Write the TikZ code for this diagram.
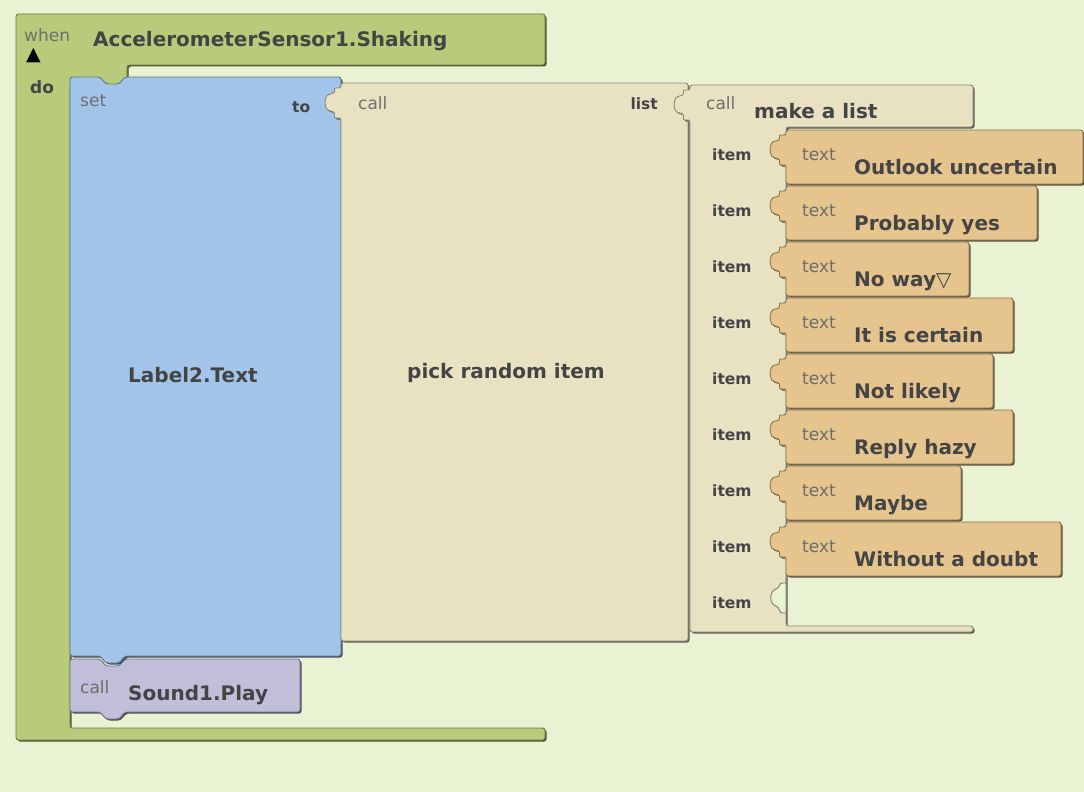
\documentclass[tikz,border=0pt]{standalone}
\usepackage{fontspec}
\setmainfont{DejaVu Sans}

\definecolor{bgcol}{HTML}{E9F3D4}
\definecolor{evgreen}{HTML}{B8CB7A}
\definecolor{setblue}{HTML}{A2C4E8}
\definecolor{callbeige}{HTML}{E8E2C3}
\definecolor{txtorange}{HTML}{E6C48E}
\definecolor{callpurple}{HTML}{C1BEDA}
\definecolor{lblgray}{HTML}{444444}
\definecolor{smgray}{HTML}{6E6E6E}

\tikzset{
  blk/.style={fill=#1, draw=#1!60!black, line width=0.9pt, rounded corners=2.5pt,
    preaction={fill=#1!40!black, transform canvas={xshift=1.5pt,yshift=-1.5pt}}},
  tabat/.style 2 args={insert path={-- (#1,{#2+35}) -- ({#1-3},{#2+35})
    .. controls ({#1-8},{#2+35}) and ({#1-5},{#2+30}) .. ({#1-10},{#2+28})
    .. controls ({#1-17},{#2+26}) and ({#1-17},{#2+13}) .. ({#1-10},{#2+11})
    .. controls ({#1-5},{#2+9}) and ({#1-8},{#2+5}) .. ({#1-3},{#2+5}) -- (#1,{#2+5})}},
  bigtxt/.style={font=\fontsize{20}{24}\selectfont\bfseries, text=lblgray, inner sep=0pt, anchor=base west},
  midtxt/.style={font=\fontsize{15.5}{18}\selectfont\bfseries, text=lblgray, inner sep=0pt, anchor=base west},
  smalltxt/.style={font=\fontsize{17}{20}\selectfont, text=smgray, inner sep=0pt, anchor=base west}
}

\begin{document}
\begin{tikzpicture}[x=1pt,y=-1pt]
\fill[bgcol] (0,0) rectangle (1084,792);
\useasboundingbox (0,0) rectangle (1084,792);

% event block
\draw[blk=evgreen] (16,14) -- (545,14) -- (545,65) -- (127,65) -- (127,85) -- (70,85)
  -- (70,728) -- (545,728) -- (545,740) -- (16,740) -- cycle;
\node[smalltxt] (when) at (24,42) {when};
\node[inner sep=0pt, anchor=base west, font=\fontsize{19}{22}\selectfont] (tri) at (26,61) {▲};
\node[bigtxt] (title) at (93,47) {AccelerometerSensor1.Shaking};
\node[midtxt, font=\fontsize{17}{20}\selectfont\bfseries] (do) at (30,93) {do};

% statements
\draw[blk=callpurple] (70,659) -- (100,659) -- (106,666) -- (119,666) -- (125,659) -- (300,659)
  -- (300,712) -- (125,712) -- (119,719) -- (106,719) -- (100,712) -- (70,712) -- cycle;
\node[smalltxt] (pcall) at (80,693) {call};
\node[bigtxt] (play) at (128,700) {Sound1.Play};

\draw[blk=setblue] (70,77) -- (100,77) -- (106,84) -- (119,84) -- (125,77) -- (341,77)
  -- (341,656) -- (125,656) -- (119,663) -- (106,663) -- (100,656) -- (70,656) -- cycle;
\node[smalltxt] (set) at (80,106) {set};
\node[midtxt] (to) at (292,112) {to};
\node[bigtxt] (lbl) at (128,382) {Label2.Text};

% pick random item
\draw[blk=callbeige] (341,83) -- (688,83) -- (688,641) -- (341,641) [tabat={341}{83}] -- cycle;
\node[smalltxt] (rcall) at (358,110) {call};
\node[midtxt, anchor=base east] (list) at (658,110) {list};
\node[bigtxt] (pick) at (407,378) {pick random item};

% make a list
\draw[blk=callbeige] (690,85) -- (973,85) -- (973,127) -- (786,127) -- (786,626)
  -- (973,626) -- (973,632) -- (690,632) [tabat={690}{85}] -- cycle;
\node[smalltxt] (mcall) at (706,110) {call};
\node[bigtxt] (mk) at (754,118) {make a list};
\draw[fill=bgcol, draw=callbeige!55!black, line width=0.9pt] (786,578) [tabat={786}{578}] -- cycle;

\foreach \k in {0,...,8}
  \node[midtxt] (item\k) at (712,{160+56*\k}) {item};

\foreach \k/\w/\val in {0/1083/Outlook uncertain, 1/1037/Probably yes, 2/969/No way▽,
    3/1013/It is certain, 4/993/Not likely, 5/1013/Reply hazy, 6/961/Maybe, 7/1061/Without a doubt} {
  \pgfmathsetmacro\t{130+56*\k}
  \draw[blk=txtorange] (786,\t) -- (\w,\t) -- (\w,{\t+54}) -- (786,{\t+54}) [tabat={786}{\t}] -- cycle;
  \node[smalltxt] (tt\k) at (802,{\t+30}) {text};
  \node[bigtxt] (val\k) at (854,{\t+44}) {\val};
}
\end{tikzpicture}
\end{document}
